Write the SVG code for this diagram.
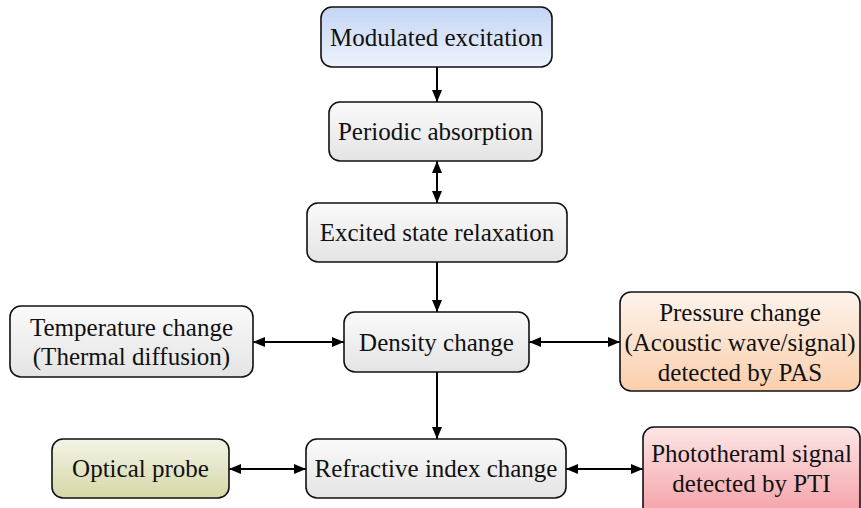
<svg xmlns="http://www.w3.org/2000/svg" width="861" height="508" viewBox="0 0 861 508">
<style>
.box{stroke:#111;stroke-width:1.6}
.t{font-family:"Liberation Serif","Times New Roman",serif;font-size:25px;fill:#111;text-anchor:middle}
.c{stroke:#000;stroke-width:2;fill:none}
</style>
<defs>
<linearGradient id="gBlue" x1="0" y1="0" x2="0" y2="1"><stop offset="0" stop-color="#c3d5f4"/><stop offset="1" stop-color="#eef3fc"/></linearGradient>
<linearGradient id="gGray" x1="0" y1="0" x2="0" y2="1"><stop offset="0" stop-color="#fafafa"/><stop offset="1" stop-color="#e4e4e4"/></linearGradient>
<linearGradient id="gPeach" x1="0" y1="0" x2="0" y2="1"><stop offset="0" stop-color="#fdf3ec"/><stop offset="1" stop-color="#fbcfac"/></linearGradient>
<linearGradient id="gOlive" x1="0" y1="0" x2="0" y2="1"><stop offset="0" stop-color="#f3f3e6"/><stop offset="1" stop-color="#d6d8a6"/></linearGradient>
<linearGradient id="gPink" x1="0" y1="0" x2="0" y2="1"><stop offset="0" stop-color="#fde6e6"/><stop offset="1" stop-color="#f4a0a6"/></linearGradient>
<marker id="ah" viewBox="0 0 12 10" refX="12" refY="5" markerWidth="6" markerHeight="5" orient="auto-start-reverse" markerUnits="strokeWidth"><path d="M0,0 L12,5 L0,10 z" fill="#000"/></marker>
</defs>
<g id="connectors">
<line class="c" x1="437" y1="67" x2="437" y2="102" marker-end="url(#ah)"/>
<line class="c" x1="437" y1="161" x2="437" y2="203" marker-start="url(#ah)" marker-end="url(#ah)"/>
<line class="c" x1="437" y1="262" x2="437" y2="312" marker-end="url(#ah)"/>
<line class="c" x1="437" y1="372" x2="437" y2="439" marker-end="url(#ah)"/>
<line class="c" x1="253" y1="342" x2="344" y2="342" marker-start="url(#ah)" marker-end="url(#ah)"/>
<line class="c" x1="529" y1="342" x2="620" y2="342" marker-start="url(#ah)" marker-end="url(#ah)"/>
<line class="c" x1="229" y1="469" x2="306" y2="469" marker-start="url(#ah)" marker-end="url(#ah)"/>
<line class="c" x1="566" y1="469" x2="643" y2="469" marker-start="url(#ah)" marker-end="url(#ah)"/>
</g>
<g id="modulated">
<rect class="box" x="321" y="7" width="231" height="60" rx="11" fill="url(#gBlue)"/>
<text class="t" x="436.5" y="46">Modulated excitation</text>
</g>
<g id="periodic">
<rect class="box" x="329" y="102" width="213" height="59" rx="11" fill="url(#gGray)"/>
<text class="t" x="435.5" y="140">Periodic absorption</text>
</g>
<g id="excited">
<rect class="box" x="307" y="203" width="260" height="59" rx="11" fill="url(#gGray)"/>
<text class="t" x="437" y="241">Excited state relaxation</text>
</g>
<g id="density">
<rect class="box" x="344" y="312" width="185" height="60" rx="11" fill="url(#gGray)"/>
<text class="t" x="436.5" y="351">Density change</text>
</g>
<g id="temperature">
<rect class="box" x="10" y="306" width="243" height="71" rx="11" fill="url(#gGray)"/>
<text class="t" x="131.5" y="336">Temperature change</text>
<text class="t" x="131.5" y="365">(Thermal diffusion)</text>
</g>
<g id="pressure">
<rect class="box" x="620" y="292" width="240" height="99" rx="11" fill="url(#gPeach)"/>
<text class="t" x="740" y="321">Pressure change</text>
<text class="t" x="740" y="351">(Acoustic wave/signal)</text>
<text class="t" x="740" y="381">detected by PAS</text>
</g>
<g id="optical">
<rect class="box" x="52" y="439" width="177" height="59" rx="11" fill="url(#gOlive)"/>
<text class="t" x="140.5" y="477">Optical probe</text>
</g>
<g id="refractive">
<rect class="box" x="306" y="439" width="260" height="59" rx="11" fill="url(#gGray)"/>
<text class="t" x="436" y="477">Refractive index change</text>
</g>
<g id="photothermal">
<rect class="box" x="643" y="427" width="217" height="90" rx="11" fill="url(#gPink)"/>
<text class="t" x="751.5" y="462">Phototheraml signal</text>
<text class="t" x="751.5" y="492">detected by PTI</text>
</g>
</svg>
